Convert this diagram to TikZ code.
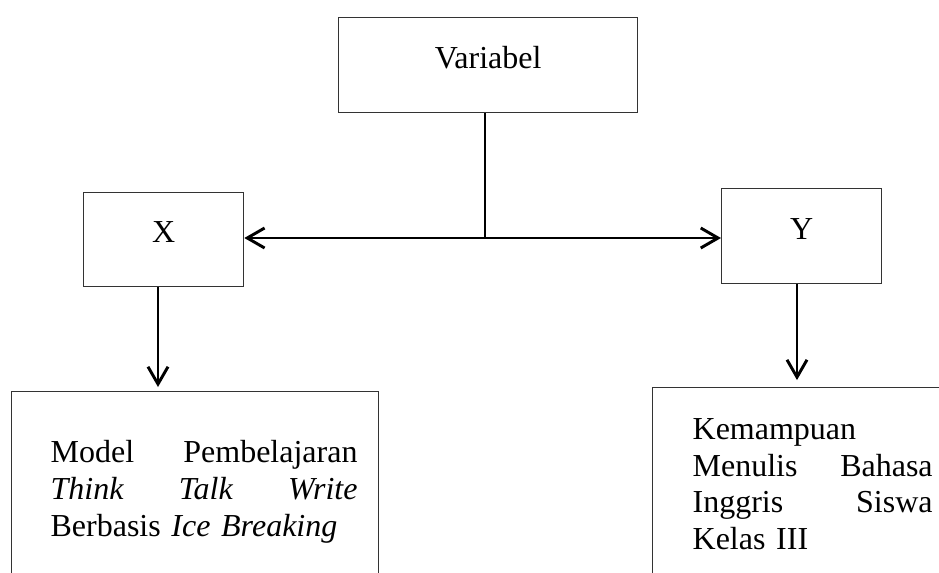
\documentclass[tikz,border=0pt]{standalone}
\usepackage{fontspec}
\setmainfont{Liberation Serif}
\usetikzlibrary{arrows.meta}
\begin{document}
\begin{tikzpicture}[x=0.375pt,y=-0.375pt,
  box/.style={draw=black!80, line width=0.5pt, inner sep=0pt, anchor=north west, font=\fontsize{12pt}{13.8pt}\selectfont},
  conn/.style={line width=0.8pt},
  arr/.style={line width=1.1pt, -{Straight Barb[length=6.5pt,width=7.5pt]}}]
\useasboundingbox (0,0) rectangle (939,572);
\clip (0,0) rectangle (939,572);
\node[box, minimum width=112.1pt, text height=19.1pt, text depth=16.5pt] (var) at (338,17) {Variabel};
\node[box, minimum width=60pt, text height=18.75pt, text depth=16.5pt] (X) at (83,192) {X};
\node[box, minimum width=60pt, text height=19.1pt, text depth=16.5pt] (Y) at (721,188) {Y};
\node[box, minimum height=75pt, text width=137.6pt, align=left] (L) at (11,391)
  {\hspace*{14.6pt}\hbox to 115.1pt{Model\hfill Pembelajaran}\\
   \hspace*{14.6pt}\hbox to 115.1pt{\textit{Think}\hfill\textit{Talk}\hfill\textit{Write}}\\
   \hspace*{14.6pt}Berbasis \textit{Ice Breaking}};
\node[box, minimum height=72.4pt, text width=115.5pt, align=left] (R) at (652,387)
  {\hspace*{15pt}Kemampuan\\
   \hspace*{15pt}\hbox to 90pt{Menulis\hfill Bahasa}\\
   \hspace*{15pt}\hbox to 90pt{Inggris\hfill Siswa}\\
   \hspace*{15pt}Kelas III};
\coordinate (mid) at (485,238);
\coordinate (xa) at (158,0);
\coordinate (ya) at (797,0);
\draw[conn] (var.south -| mid) -- (mid);
\draw[arr] (mid) -- (mid -| X.east);
\draw[arr] (mid) -- (mid -| Y.west);
\draw[arr, shorten >=1.5pt] (X.south -| xa) -- (L.north -| xa);
\draw[arr, shorten >=2.6pt] (Y.south -| ya) -- (R.north -| ya);
\end{tikzpicture}
\end{document}
